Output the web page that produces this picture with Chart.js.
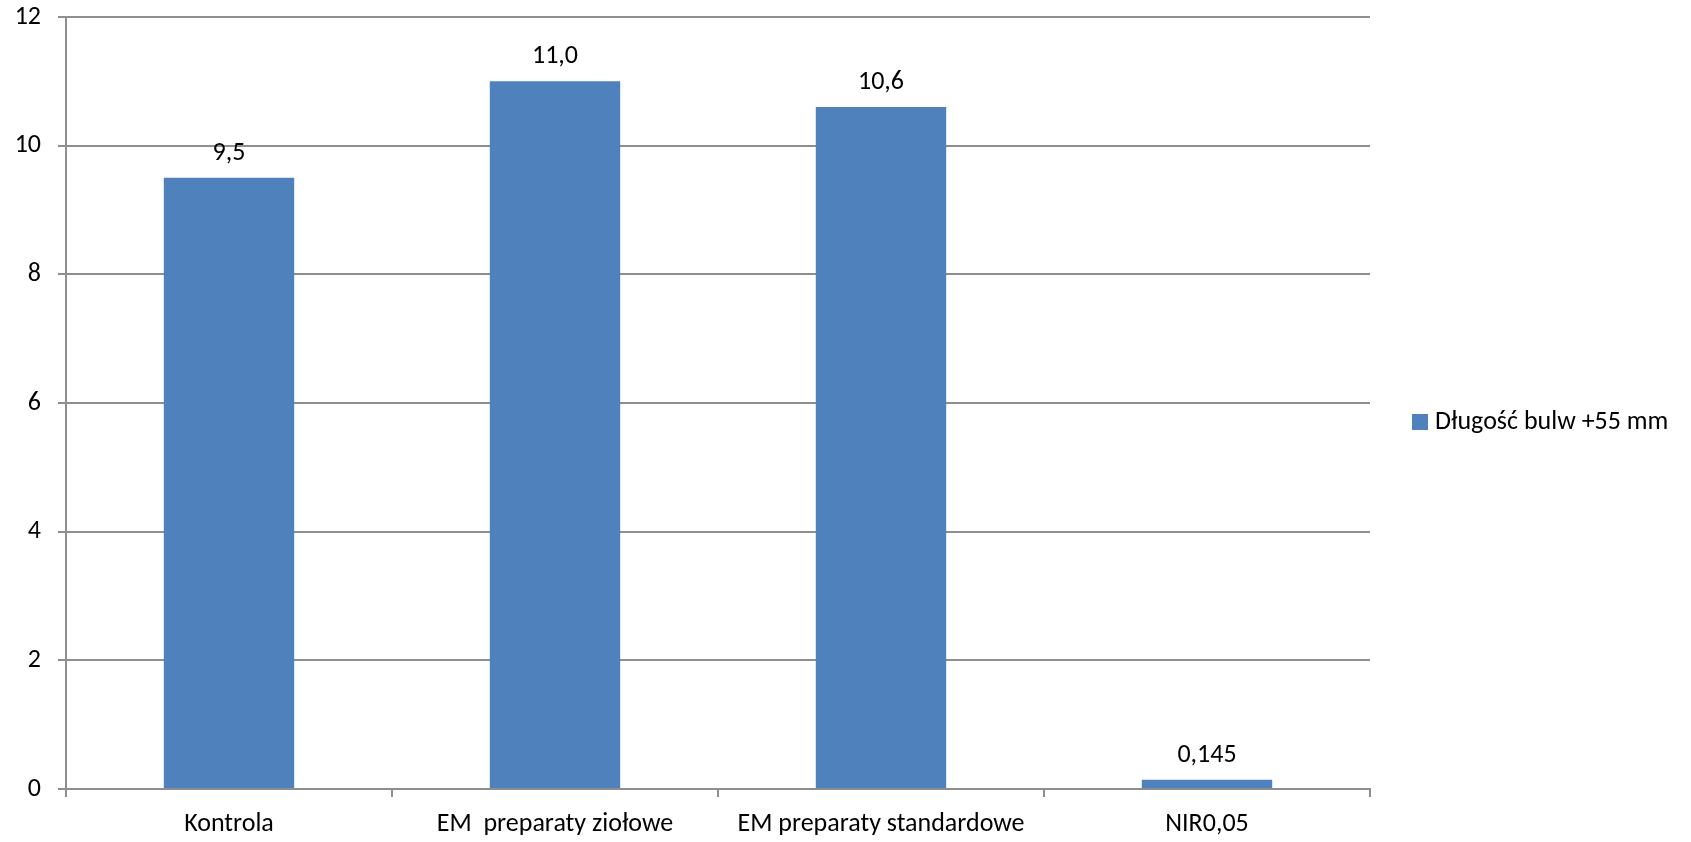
<!DOCTYPE html>
<html lang="pl">
<head>
<meta charset="utf-8">
<title>Długość bulw +55 mm</title>
<script src="https://cdn.jsdelivr.net/npm/chart.js@4/dist/chart.umd.min.js"></script>
<style>
  html, body { margin: 0; padding: 0; background: #fff; }
  #wrap { width: 1691px; height: 842px; position: relative; }
</style>
</head>
<body>
<div id="wrap"><canvas id="chart" width="1691" height="842"></canvas></div>
<script>
// Chart data
const categories = ['Kontrola', 'EM  preparaty ziołowe', 'EM preparaty standardowe', 'NIR0,05'];
const seriesLabel = 'Długość bulw +55 mm';
const seriesValues = [9.5, 11.0, 10.6, 0.145];
const seriesDecimals = [1, 1, 1, 3];
const yTicks = [0, 2, 4, 6, 8, 10, 12];

const FONT = 'Carlito, Calibri, "Liberation Sans", Arial, sans-serif';
const FONT_SIZE = 26;
const BAR_COLOR = '#4F81BD';
const GRID_COLOR = '#8e8e8e';

function formatPl(v, d) {
  return v.toFixed(d).replace('.', ',');
}

// Value labels above each bar
const valueLabels = {
  id: 'valueLabels',
  afterDatasetsDraw(chart) {
    const ctx = chart.ctx;
    const meta = chart.getDatasetMeta(0);
    ctx.save();
    ctx.font = FONT_SIZE + 'px ' + FONT;
    ctx.fillStyle = '#000';
    ctx.textAlign = 'center';
    ctx.textBaseline = 'alphabetic';
    meta.data.forEach((bar, i) => {
      const v = chart.data.datasets[0].data[i];
      ctx.fillText(formatPl(v, seriesDecimals[i]), bar.x, bar.y - 18);
    });
    ctx.restore();
  }
};

// Legend drawn at the right side of the canvas
const sideLegend = {
  id: 'sideLegend',
  afterDraw(chart) {
    const ctx = chart.ctx;
    const ds = chart.data.datasets[0];
    const y = 422;
    const x = 1412;
    ctx.save();
    ctx.fillStyle = ds.backgroundColor;
    ctx.fillRect(x, y - 8, 16, 16);
    ctx.font = FONT_SIZE + 'px ' + FONT;
    ctx.fillStyle = '#000';
    ctx.textAlign = 'left';
    ctx.textBaseline = 'middle';
    ctx.fillText(ds.label, x + 23, y);
    ctx.restore();
  }
};

new Chart(document.getElementById('chart'), {
  type: 'bar',
  data: {
    labels: categories,
    datasets: [{
      label: seriesLabel,
      data: seriesValues,
      backgroundColor: BAR_COLOR,
      borderWidth: 0,
      categoryPercentage: 0.4,
      barPercentage: 1.0
    }]
  },
  options: {
    responsive: false,
    animation: false,
    devicePixelRatio: 1,
    layout: { padding: { left: 0, right: 321, top: 17, bottom: 0 } },
    plugins: {
      legend: { display: false },
      tooltip: { enabled: false }
    },
    scales: {
      x: {
        offset: true,
        grid: {
          offset: true,
          drawOnChartArea: false,
          drawTicks: true,
          tickLength: 8,
          color: GRID_COLOR,
          lineWidth: 2
        },
        border: { display: true, color: GRID_COLOR, width: 2 },
        ticks: {
          color: '#000',
          font: { family: FONT, size: FONT_SIZE },
          padding: 12,
          maxRotation: 0,
          autoSkip: false
        },
        afterFit(scale) { scale.height = 53; }
      },
      y: {
        min: 0,
        max: 12,
        afterBuildTicks(scale) { scale.ticks = yTicks.map(v => ({ value: v })); },
        grid: {
          color: GRID_COLOR,
          lineWidth: 2,
          drawTicks: true,
          tickLength: 8
        },
        border: { display: true, color: GRID_COLOR, width: 2 },
        ticks: {
          color: '#000',
          font: { family: FONT, size: FONT_SIZE },
          padding: 17
        },
        afterFit(scale) {
          scale.width = 66;
          scale.paddingTop = 0;
          scale.paddingBottom = 0;
        }
      }
    }
  },
  plugins: [valueLabels, sideLegend]
});
</script>
</body>
</html>
